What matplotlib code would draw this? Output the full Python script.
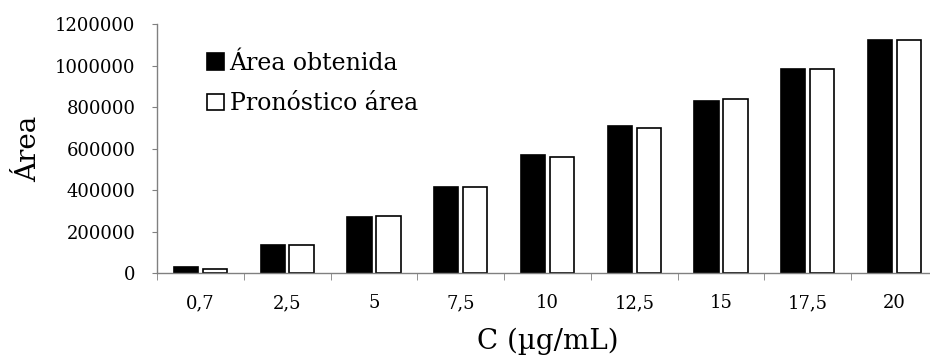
import matplotlib
matplotlib.use("Agg")
import matplotlib.pyplot as plt
import numpy as np

conc = ["0,7", "2,5", "5", "7,5", "10", "12,5", "15", "17,5", "20"]
area_obtenida = [31000, 136000, 270000, 415000, 570000, 710000, 830000, 983000, 1123000]
area_pronostico = [22000, 135000, 276000, 415000, 562000, 702000, 842000, 983000, 1123000]

plt.rcParams["font.family"] = ["DejaVu Serif"]

fig = plt.figure(figsize=(9.3, 3.59), dpi=100)
ax = fig.add_axes([0.1688, 0.2387, 0.8398, 0.6936])

x = np.arange(len(conc))
w = 0.28
ax.bar(x - 0.167, area_obtenida, w, color="black", edgecolor="black", linewidth=1.2, label="Área obtenida")
ax.bar(x + 0.167, area_pronostico, w, color="white", edgecolor="black", linewidth=1.2, label="Pronóstico área")

ax.set_xlim(-0.5, len(conc) - 0.5)
ax.set_ylim(0, 1200000)
ax.set_yticks(range(0, 1200001, 200000))
ax.set_yticklabels([str(v) for v in range(0, 1200001, 200000)])
ax.set_xticks(x)
ax.set_xticklabels(conc)
ax.set_xticks(np.arange(-0.5, len(conc), 1), minor=True)

for s in ["top", "right"]:
    ax.spines[s].set_visible(False)
for s in ["left", "bottom"]:
    ax.spines[s].set_color("#808080")
    ax.spines[s].set_linewidth(1)

ax.tick_params(axis="y", length=3.6, color="#808080", labelsize=13, pad=12)
ax.tick_params(axis="x", which="major", length=0, labelsize=13, pad=15)
ax.tick_params(axis="x", which="minor", length=5, color="#808080")

ax.set_ylabel("Área", fontsize=20, labelpad=9)
ax.set_xlabel("C (µg/mL)", fontsize=20, labelpad=11)

ax.legend(loc="upper left", bbox_to_anchor=(0.037, 0.976), frameon=False, fontsize=17,
          handlelength=0.7, handleheight=0.7, handletextpad=0.25, labelspacing=0.75)

fig.savefig("out.png", dpi=100)
